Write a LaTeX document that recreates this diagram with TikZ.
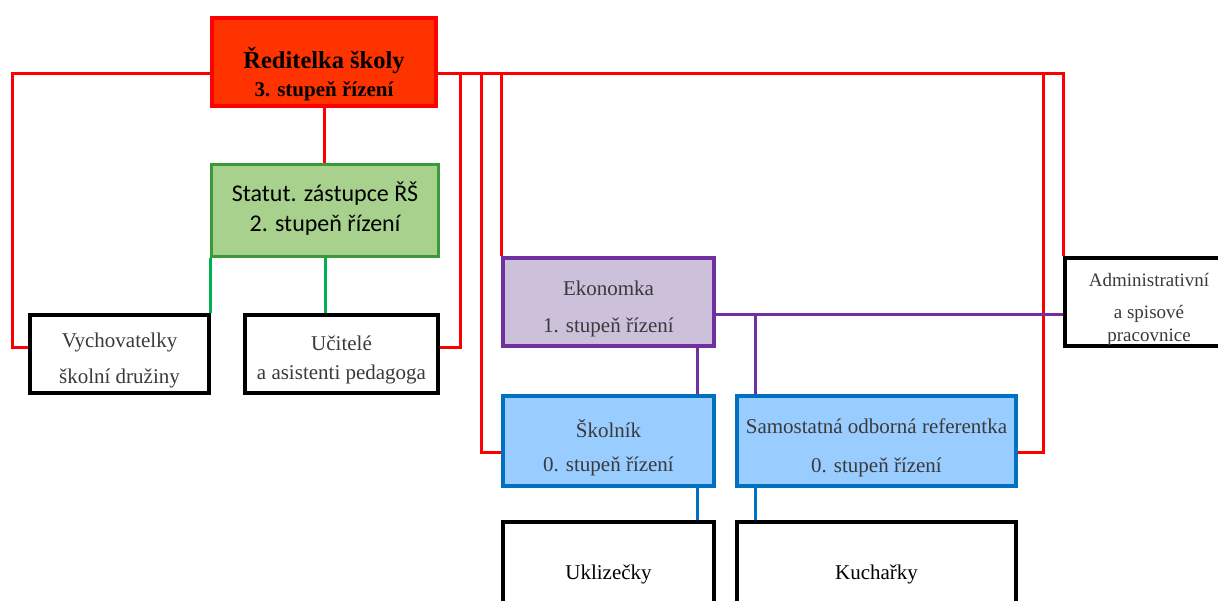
\documentclass[tikz,border=0pt]{standalone}
\usepackage{fontspec}
\setmainfont{Liberation Serif}
\newfontfamily\calib{Carlito}
\definecolor{redl}{HTML}{FF0000}
\definecolor{topfill}{HTML}{FF3300}
\definecolor{grnb}{HTML}{3A9A3A}
\definecolor{grnf}{HTML}{A9D18E}
\definecolor{grnl}{HTML}{00B050}
\definecolor{purb}{HTML}{7030A0}
\definecolor{purf}{HTML}{CCC0DA}
\definecolor{blub}{HTML}{0070C0}
\definecolor{bluf}{HTML}{99CCFF}
\definecolor{txtg}{HTML}{3A3A3A}
\pgfdeclarelayer{background}
\pgfsetlayers{background,main}
\begin{document}
\begin{tikzpicture}[x=1pt,y=-1pt,
  box/.style={draw, rectangle, line width=4pt, inner sep=0pt},
  plainbox/.style={box, draw=black, fill=white},
  txt/.style={inner sep=0pt, align=center, text=txtg, font=\fontsize{21}{25}\selectfont},
  redc/.style={draw=redl, line width=3pt},
  grnc/.style={draw=grnl, line width=3pt},
  purc/.style={draw=purb, line width=3pt},
  bluc/.style={draw=blub, line width=3pt}
]
\useasboundingbox (0,0) rectangle (1218,601);
\clip (0,0) rectangle (1218,601);

% boxes
\node[box, draw=redl, line width=4.5pt, fill=topfill, minimum width=224pt, minimum height=88pt] (top) at (324,62) {};
\node[box, draw=grnb, line width=3pt, fill=grnf, minimum width=227pt, minimum height=92pt] (green) at (325,210.5) {};
\node[plainbox, minimum width=179pt, minimum height=78pt] (vych) at (119.5,354) {};
\node[plainbox, minimum width=193pt, minimum height=78pt] (ucit) at (341.5,354) {};
\node[box, draw=purb, fill=purf, minimum width=211pt, minimum height=88pt] (ekon) at (608.5,302) {};
\node[plainbox, minimum width=168pt, minimum height=88pt] (admin) at (1149,302) {};
\node[box, draw=blub, fill=bluf, minimum width=211pt, minimum height=90pt] (skol) at (608.5,441) {};
\node[box, draw=blub, fill=bluf, minimum width=279pt, minimum height=90pt] (samo) at (876.5,441) {};
\node[plainbox, minimum width=211pt, minimum height=100pt] (ukli) at (608.5,572) {};
\node[plainbox, minimum width=279pt, minimum height=100pt] (kuch) at (876.5,572) {};

% texts
\node[txt, text=black, font=\bfseries] (topt) at ([yshift=-12pt]top.center)
  {{\fontsize{24.5}{28}\selectfont Ředitelka školy}\\[7pt]{\fontsize{21}{25}\selectfont 3. stupeň řízení}};
\node[txt, text=black, font=\calib\fontsize{24}{28}\selectfont] (greent) at ([yshift=2pt]green.center)
  {Statut. zástupce ŘŠ\\[2pt]2. stupeň řízení};
\node[txt] (vycht) at ([yshift=-6.5pt]vych.center) {Vychovatelky\\[11pt]školní družiny};
\node[txt] (ucitt) at ([yshift=-6pt]ucit.center) {Učitelé\\[4pt]a asistenti pedagoga};
\node[txt] (ekont) at ([yshift=-6.5pt]ekon.center) {Ekonomka\\[12pt]1. stupeň řízení};
\node[txt, font=\fontsize{19}{22}\selectfont] (admint) at ([yshift=-7pt]admin.center)
  {Administrativní\\[10pt]a spisové\\[1pt]pracovnice};
\node[txt] (skolt) at ([yshift=-6.5pt]skol.center) {Školník\\[9pt]0. stupeň řízení};
\node[txt] (samot) at ([yshift=-7pt]samo.center) {Samostatná odborná referentka\\[14pt]0. stupeň řízení};
\node[txt, text=black] (uklit) at ([yshift=-2pt]ukli.center) {Uklizečky};
\node[txt, text=black] (kucht) at ([yshift=-2pt]kuch.center) {Kuchařky};

\coordinate (bus) at (0,74);
\coordinate (lft) at (12,348);
\coordinate (b1) at (460,348);
\coordinate (b2) at (481,452);
\coordinate (b4) at (1043,452);
\coordinate (pm) at (0,315);
\coordinate (p2) at (755,315);
\coordinate (p1) at (697,0);

\begin{pgfonlayer}{background}
\draw[redc] (top.west |- bus) -| (lft) -- (vych.west |- lft);
\draw[redc] (top.east |- bus) -| (admin.north west);
\draw[redc] (b1 |- bus) -- (b1) -- (ucit.east |- b1);
\draw[redc] (b2 |- bus) -- (b2) -- (skol.west |- b2);
\draw[redc] (ekon.north west |- bus) -- (ekon.north west);
\draw[redc] (b4 |- bus) -- (b4) -- (samo.east |- b4);
\draw[redc] (top.south) -- (top.south |- green.north);
\draw[grnc] (green.south west) -- (green.south west |- vych.north);
\draw[grnc] (green.south) -- (green.south |- ucit.north);
\draw[purc] (ekon.east |- pm) -- (admin.west |- pm);
\draw[purc] (p2) -- (p2 |- samo.north);
\draw[purc] (ekon.south -| p1) -- (skol.north -| p1);
\draw[bluc] (skol.south -| p1) -- (ukli.north -| p1);
\draw[bluc] (samo.south -| p2) -- (kuch.north -| p2);
\end{pgfonlayer}
\end{tikzpicture}
\end{document}
